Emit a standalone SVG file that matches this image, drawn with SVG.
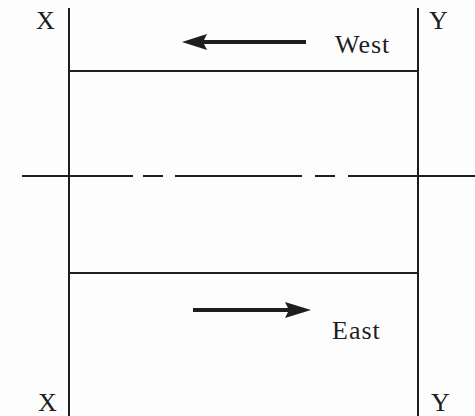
<svg xmlns="http://www.w3.org/2000/svg" width="475" height="416" viewBox="0 0 475 416">
<style>
.ln{stroke:#1e1e1e;stroke-width:2;fill:none}
.ar{stroke:#1e1e1e;stroke-width:4;fill:none}
.hd{fill:#1e1e1e}
text{font-family:"Liberation Serif","Times New Roman",serif;font-size:26px;fill:#1e1e1e}
</style>
<rect width="475" height="416" fill="#fdfdfd"/>
<g id="connectors">
<line class="ln" x1="69" y1="8" x2="69" y2="416"/>
<line class="ln" x1="418" y1="8" x2="418" y2="416"/>
<line class="ln" x1="69" y1="71" x2="418" y2="71"/>
<line class="ln" x1="69" y1="273" x2="418" y2="273"/>
<line class="ln" x1="22" y1="176" x2="475" y2="176" stroke-dasharray="111,10,20,12,127,13,20,13,127"/>
</g>
<g id="west">
<line class="ar" x1="306" y1="42" x2="200" y2="42"/>
<polygon class="hd" points="182,42 207,34 203,42 207,50"/>
<text x="335" y="53" letter-spacing="1">West</text>
</g>
<g id="east">
<line class="ar" x1="193" y1="310" x2="290" y2="310"/>
<polygon class="hd" points="311,310 285,302 289,310 285,318"/>
<text x="332" y="339" letter-spacing="1">East</text>
</g>
<g id="labels">
<text x="36" y="29">X</text>
<text x="429" y="29">Y</text>
<text x="38" y="411">X</text>
<text x="431" y="411">Y</text>
</g>
</svg>
